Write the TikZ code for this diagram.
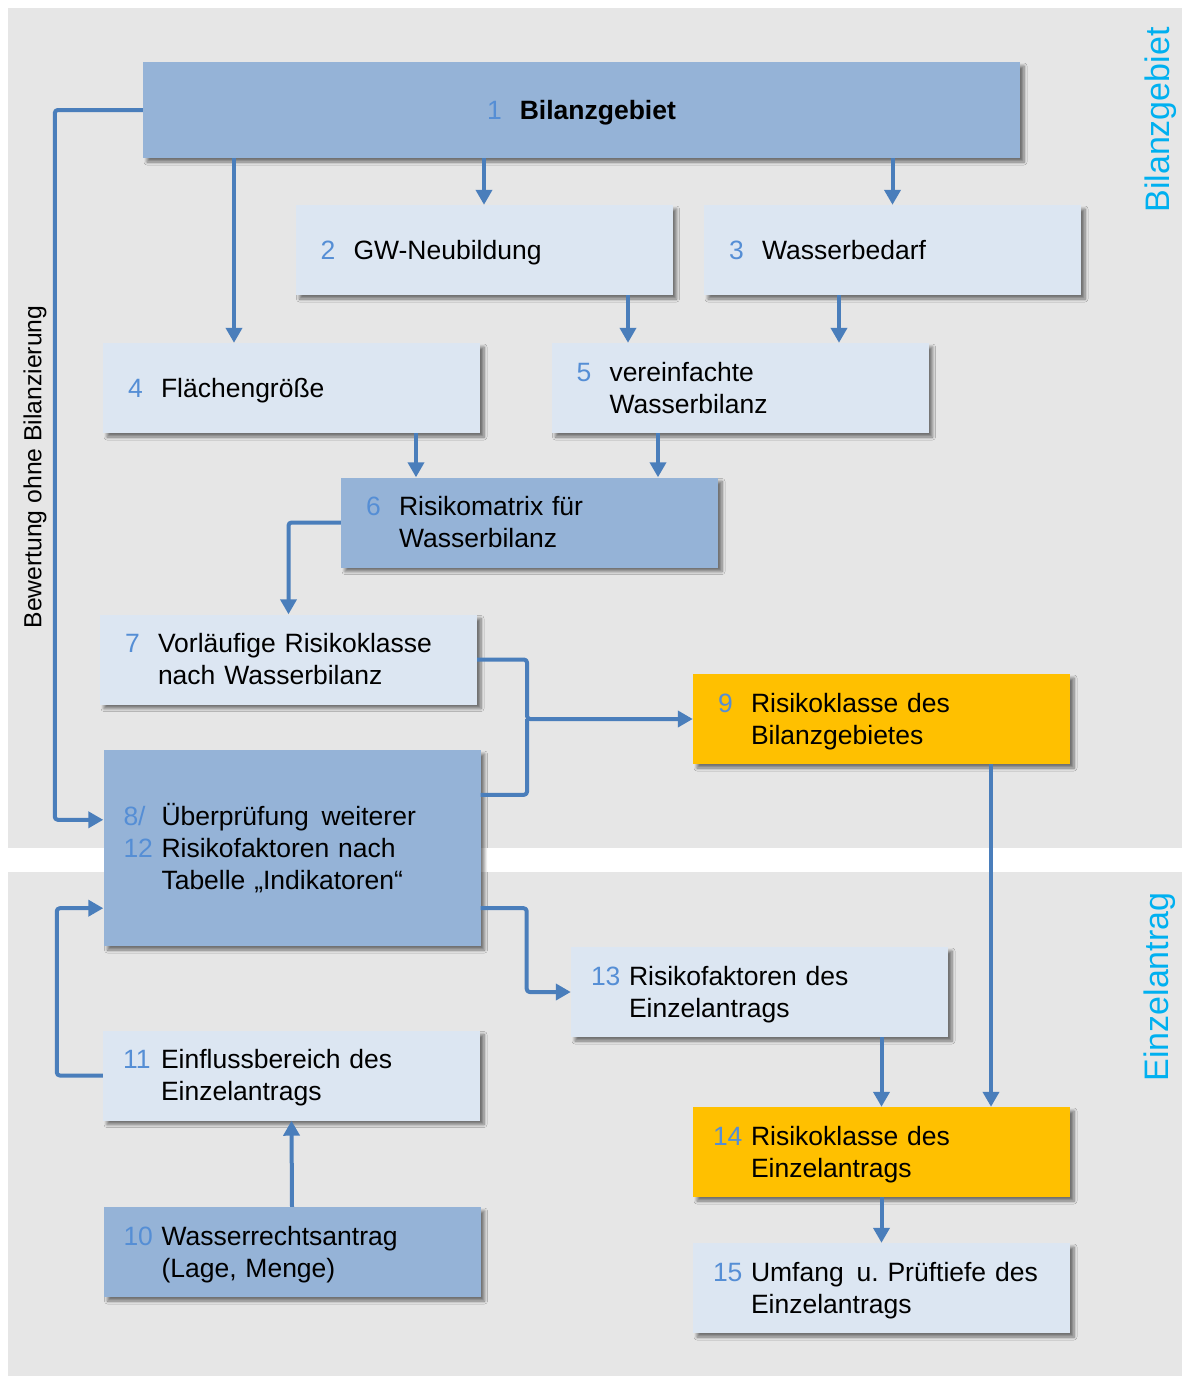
\documentclass[tikz,border=0pt]{standalone}
\usepackage{fontspec}
\setmainfont{Liberation Sans}
\usetikzlibrary{arrows.meta,shadows,shadows.blur}

\definecolor{bggray}{RGB}{230,230,230}
\definecolor{darkbox}{RGB}{149,179,215}
\definecolor{lightbox}{RGB}{220,230,242}
\definecolor{goldbox}{RGB}{255,192,0}
\definecolor{linkblue}{RGB}{74,126,187}
\definecolor{nrblue}{RGB}{85,142,213}
\definecolor{sidecyan}{RGB}{0,176,240}

% Nummer vor dem Kastentext (erste Zeile mit Abstandsstrebe)
\newcommand{\toprule}{\rule[-9.6pt]{0pt}{38pt}}
\newcommand{\nr}[1]{\toprule\makebox[38pt][l]{\textcolor{nrblue}{#1}}}
\newcommand{\nrs}[1]{\toprule\makebox[38pt][l]{\hspace{5pt}\textcolor{nrblue}{#1}}}
\newcommand{\nrb}[1]{\makebox[38pt][l]{\textcolor{nrblue}{#1}}}

\begin{document}
\begin{tikzpicture}[
  x=1pt,
  y=-1pt,
  font=\fontsize{26.5}{32}\selectfont
]

% Kastenstile
\tikzset{
  shade box/.style={rectangle, inner ysep=0pt,
    blur shadow={shadow xshift=4pt, shadow yshift=-4pt, shadow blur steps=6, shadow blur radius=3pt, shadow opacity=50}},
  box/.style={shade box, minimum height=90pt, text width=337pt, inner xsep=20pt, align=left},
  dark/.style={box, fill=darkbox},
  light/.style={box, fill=lightbox},
  gold/.style={box, fill=goldbox},
  conn/.style={draw=linkblue, line width=4pt, line join=round, rounded corners=3pt,
    -{Triangle[length=15pt,width=16pt]}},
  link/.style={draw=linkblue, line width=4pt, line join=round, rounded corners=3pt},
  side/.style={text=sidecyan, font=\fontsize{34}{40}\selectfont, rotate=90}
}

\useasboundingbox (0,0) rectangle (1182,1376);

% ===== Hintergrund =====
\fill[bggray] (8,8) rectangle (1182,848);
\fill[bggray] (8,872) rectangle (1182,1376);

\node[side] (sideB) at (1161,120) {Bilanzgebiet};
\node[side] (sideE) at (1160,987) {Einzelantrag};

% ===== Kaesten =====
\node[shade box, fill=darkbox, minimum width=877pt, minimum height=96pt, inner xsep=0pt]
  (b1) at (581.5,110) {\toprule\textcolor{nrblue}{1}\hspace{18pt}\textbf{Bilanzgebiet}};

\node[light] (b2) at (484,250) {\nrs{2}GW-Neubildung};
\node[light] (b3) at (892.5,250) {\nrs{3}Wasserbedarf};
\node[light] (b4) at (291.5,388) {\nrs{4}Flächengröße};
\node[light] (b5) at (740,388)
  {\begin{tabular}{@{}l@{}l@{}}\nrs{5} & vereinfachte\\ & Wasserbilanz\end{tabular}};
\node[dark] (b6) at (529.5,522.5)
  {\begin{tabular}{@{}l@{}l@{}}\nrs{6} & Risikomatrix für\\ & Wasserbilanz\end{tabular}};
\node[light] (b7) at (288.5,659.5)
  {\begin{tabular}{@{}l@{}l@{}}\nrs{7} & Vorläufige Risikoklasse\\ & nach Wasserbilanz\end{tabular}};
\node[dark, minimum height=196pt] (b8) at (292,848)
  {\begin{tabular}{@{}l@{}l@{}}\nr{8/} & Überprüfung\hspace{4pt} weiterer\\ \nrb{12} & Risikofaktoren nach\\ & Tabelle „Indikatoren“\end{tabular}};
\node[gold] (b9) at (881.5,719)
  {\begin{tabular}{@{}l@{}l@{}}\nrs{9} & Risikoklasse des\\ & Bilanzgebietes\end{tabular}};
\node[light] (b13) at (759.5,992)
  {\begin{tabular}{@{}l@{}l@{}}\nr{13} & Risikofaktoren des\\ & Einzelantrags\end{tabular}};
\node[light] (b11) at (291.5,1075.5)
  {\begin{tabular}{@{}l@{}l@{}}\nr{11} & Einflussbereich des\\ & Einzelantrags\end{tabular}};
\node[dark] (b10) at (292,1252)
  {\begin{tabular}{@{}l@{}l@{}}\nr{10} & Wasserrechtsantrag\\ & (Lage, Menge)\end{tabular}};
\node[gold] (b14) at (881.5,1152)
  {\begin{tabular}{@{}l@{}l@{}}\nr{14} & Risikoklasse des\\ & Einzelantrags\end{tabular}};
\node[light] (b15) at (881.5,1288)
  {\begin{tabular}{@{}l@{}l@{}}\nr{15} & Umfang\hspace{4pt} u.\ Prüftiefe des\\ & Einzelantrags\end{tabular}};

% ===== Verbindungen =====
% Bilanzgebiet
\foreach \t in {b2, b3} {
  \draw[conn] (b1.south -| \t.north) -- (\t.north);
}
\draw[conn] ([xshift=-57.5pt]b4.north |- b1.south) -- ([xshift=-57.5pt]b4.north);
\draw[conn] ([xshift=144pt]b2.south) -- ([xshift=144pt]b2.south |- b5.north);
\draw[conn] ([xshift=-53.5pt]b3.south) -- ([xshift=-53.5pt]b3.south |- b5.north);
\draw[conn] ([xshift=124.5pt]b4.south) -- ([xshift=124.5pt]b4.south |- b6.north);
\draw[conn] ([xshift=-82pt]b5.south) -- ([xshift=-82pt]b5.south |- b6.north);
\draw[conn] (b6.west) -| (b7.north);

% Zusammenfuehrung zu 9
\coordinate (j9) at (527,719);
\draw[conn] (b7.east) -| (j9) -- (b9.west);
\draw[link] ([yshift=-45pt]b8.north east) -| (j9);

% Bewertung ohne Bilanzierung
\draw[conn] (b1.west) -- ++(-88pt,0) |- ([yshift=-70pt]b8.north west);
\node[rotate=90, font=\fontsize{24.7}{30}\selectfont] (lbl) at (35,467) {Bewertung ohne Bilanzierung};

% Einzelantrag
\draw[conn] ([yshift=38pt]b8.south east) -- ++(46pt,0) |- (b13.west);
\draw[conn] (b11.west) -- ++(-46pt,0) |- ([yshift=38pt]b8.south west);
\draw[conn] (b10.north) -- (b11.south);
\draw[conn] (b13.south -| b14.north) -- (b14.north);
\draw[conn] ([xshift=109.5pt]b9.south) -- ([xshift=109.5pt]b9.south |- b14.north);
\draw[conn] (b14.south) -- (b15.north);

\end{tikzpicture}
\end{document}
